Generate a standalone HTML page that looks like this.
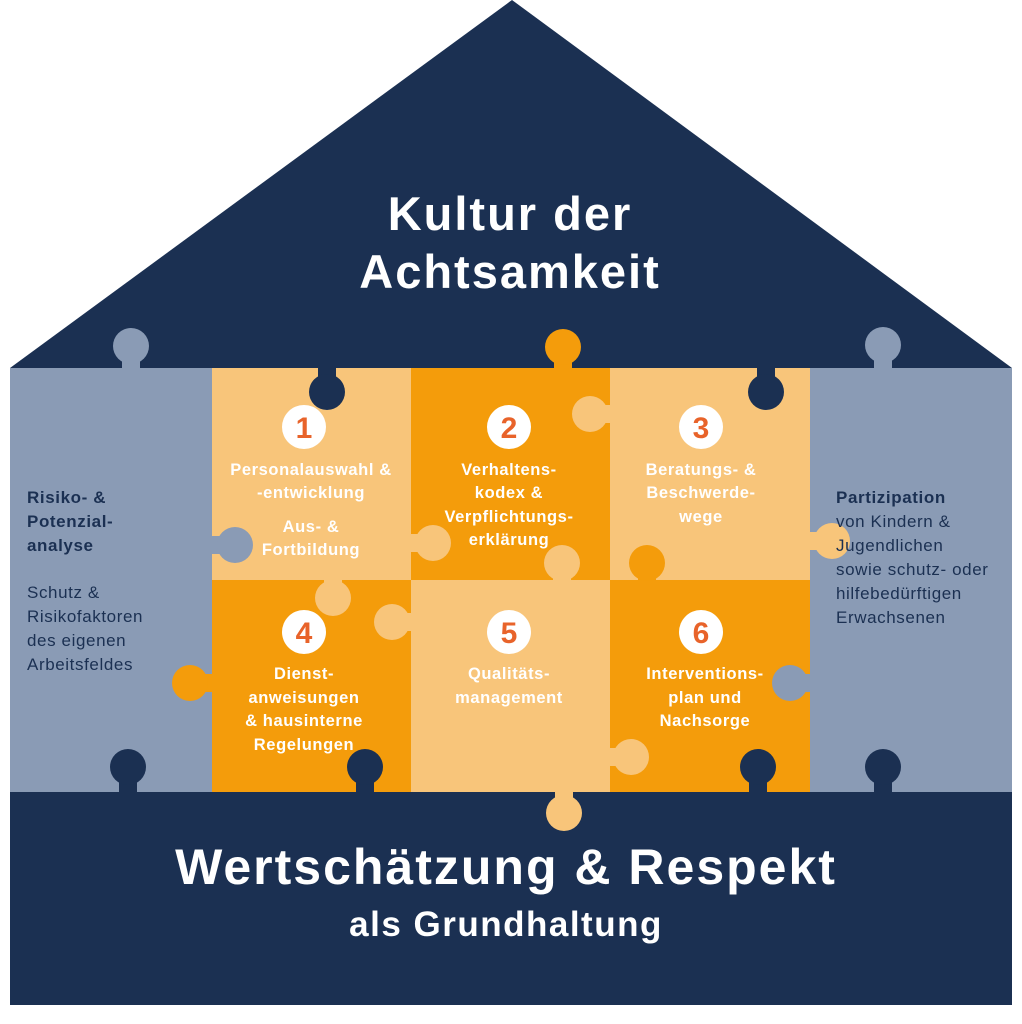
<!DOCTYPE html>
<html><head><meta charset="utf-8"><style>
html,body{margin:0;padding:0;background:#fff;}
svg{display:block;}
text{font-family:"Liberation Sans",sans-serif;}
</style></head><body>
<svg width="1022" height="1024" viewBox="0 0 1022 1024" xmlns="http://www.w3.org/2000/svg">
<polygon points="10,368 512,0 1012,368" fill="#1b3052"/>
<rect x="10" y="368" width="202" height="424" fill="#8a9bb5"/>
<rect x="810" y="368" width="202" height="424" fill="#8a9bb5"/>
<rect x="212" y="368" width="200" height="212" fill="#f8c57a"/>
<rect x="411" y="368" width="200" height="212" fill="#f49c0b"/>
<rect x="610" y="368" width="200" height="212" fill="#f8c57a"/>
<rect x="212" y="580" width="200" height="212" fill="#f49c0b"/>
<rect x="411" y="580" width="200" height="212" fill="#f8c57a"/>
<rect x="610" y="580" width="200" height="212" fill="#f49c0b"/>
<rect x="10" y="792" width="1002" height="213" fill="#1b3052"/>

<g>
<rect x="122" y="346" width="18" height="24" fill="#8a9bb5"/><circle cx="131" cy="346" r="18" fill="#8a9bb5"/>
<rect x="874" y="345" width="18" height="25" fill="#8a9bb5"/><circle cx="883" cy="345" r="18" fill="#8a9bb5"/>
<rect x="554" y="347" width="18" height="23" fill="#f49c0b"/><circle cx="563" cy="347" r="18" fill="#f49c0b"/>
<rect x="318" y="366" width="18" height="26" fill="#1b3052"/><circle cx="327" cy="392" r="18" fill="#1b3052"/>
<rect x="757" y="366" width="18" height="26" fill="#1b3052"/><circle cx="766" cy="392" r="18" fill="#1b3052"/>
<rect x="590" y="405" width="22" height="18" fill="#f8c57a"/><circle cx="590" cy="414" r="18" fill="#f8c57a"/>
<rect x="210" y="536" width="26" height="18" fill="#8a9bb5"/><circle cx="235" cy="545" r="18" fill="#8a9bb5"/>
<rect x="410" y="534" width="24" height="18" fill="#f8c57a"/><circle cx="433" cy="543" r="18" fill="#f8c57a"/>
<rect x="553" y="562" width="18" height="20" fill="#f8c57a"/><circle cx="562" cy="563" r="18" fill="#f8c57a"/>
<rect x="638" y="562" width="18" height="20" fill="#f49c0b"/><circle cx="647" cy="563" r="18" fill="#f49c0b"/>
<rect x="808" y="532" width="24" height="18" fill="#f8c57a"/><circle cx="832" cy="541" r="18" fill="#f8c57a"/>
<rect x="324" y="578" width="18" height="20" fill="#f8c57a"/><circle cx="333" cy="598" r="18" fill="#f8c57a"/>
<rect x="392" y="613" width="21" height="18" fill="#f8c57a"/><circle cx="392" cy="622" r="18" fill="#f8c57a"/>
<rect x="190" y="674" width="24" height="18" fill="#f49c0b"/><circle cx="190" cy="683" r="18" fill="#f49c0b"/>
<rect x="790" y="674" width="22" height="18" fill="#8a9bb5"/><circle cx="790" cy="683" r="18" fill="#8a9bb5"/>
<rect x="609" y="748" width="22" height="18" fill="#f8c57a"/><circle cx="631" cy="757" r="18" fill="#f8c57a"/>
<rect x="555" y="790" width="18" height="24" fill="#f8c57a"/><circle cx="564" cy="813" r="18" fill="#f8c57a"/>
<rect x="119" y="767" width="18" height="27" fill="#1b3052"/><circle cx="128" cy="767" r="18" fill="#1b3052"/>
<rect x="356" y="767" width="18" height="27" fill="#1b3052"/><circle cx="365" cy="767" r="18" fill="#1b3052"/>
<rect x="749" y="767" width="18" height="27" fill="#1b3052"/><circle cx="758" cy="767" r="18" fill="#1b3052"/>
<rect x="874" y="767" width="18" height="27" fill="#1b3052"/><circle cx="883" cy="767" r="18" fill="#1b3052"/>
</g>

<g fill="#fff" font-weight="bold" text-anchor="middle">
<text x="510" y="230" font-size="47" letter-spacing="2">Kultur der</text>
<text x="510" y="288" font-size="47" letter-spacing="2">Achtsamkeit</text>
<text x="506" y="884" font-size="50" letter-spacing="2">Wertschätzung &amp; Respekt</text>
<text x="506" y="936" font-size="35" letter-spacing="1.5">als Grundhaltung</text>
</g>

<g fill="#fff">
<circle cx="304" cy="427" r="22"/><circle cx="509" cy="427" r="22"/><circle cx="701" cy="427" r="22"/>
<circle cx="304" cy="632" r="22"/><circle cx="509" cy="632" r="22"/><circle cx="701" cy="632" r="22"/>
</g>
<g fill="#e8632a" font-weight="bold" font-size="30" text-anchor="middle">
<text x="304" y="438">1</text><text x="509" y="438">2</text><text x="701" y="438">3</text>
<text x="304" y="643">4</text><text x="509" y="643">5</text><text x="701" y="643">6</text>
</g>

<g fill="#fff" font-weight="bold" font-size="16.5" letter-spacing="0.6" text-anchor="middle">
<text x="311" y="475">Personalauswahl &amp;</text>
<text x="311" y="498">-entwicklung</text>
<text x="311" y="532">Aus- &amp;</text>
<text x="311" y="555">Fortbildung</text>
<text x="509" y="475">Verhaltens-</text>
<text x="509" y="498">kodex &amp;</text>
<text x="509" y="522">Verpflichtungs-</text>
<text x="509" y="545">erklärung</text>
<text x="701" y="475">Beratungs- &amp;</text>
<text x="701" y="498">Beschwerde-</text>
<text x="701" y="522">wege</text>
<text x="304" y="679">Dienst-</text>
<text x="304" y="703">anweisungen</text>
<text x="304" y="726">&amp; hausinterne</text>
<text x="304" y="750">Regelungen</text>
<text x="509" y="679">Qualitäts-</text>
<text x="509" y="703">management</text>
<text x="705" y="679">Interventions-</text>
<text x="705" y="703">plan und</text>
<text x="705" y="726">Nachsorge</text>
</g>

<g fill="#1b3052" font-size="17" letter-spacing="0.6">
<text x="27" y="503" font-weight="bold">Risiko- &amp;</text>
<text x="27" y="527" font-weight="bold">Potenzial-</text>
<text x="27" y="551" font-weight="bold">analyse</text>
<text x="27" y="598">Schutz &amp;</text>
<text x="27" y="622">Risikofaktoren</text>
<text x="27" y="646">des eigenen</text>
<text x="27" y="670">Arbeitsfeldes</text>
<text x="836" y="503" font-weight="bold">Partizipation</text>
<text x="836" y="527">von Kindern &amp;</text>
<text x="836" y="551">Jugendlichen</text>
<text x="836" y="575">sowie schutz- oder</text>
<text x="836" y="599">hilfebedürftigen</text>
<text x="836" y="623">Erwachsenen</text>
</g>
</svg>
</body></html>
